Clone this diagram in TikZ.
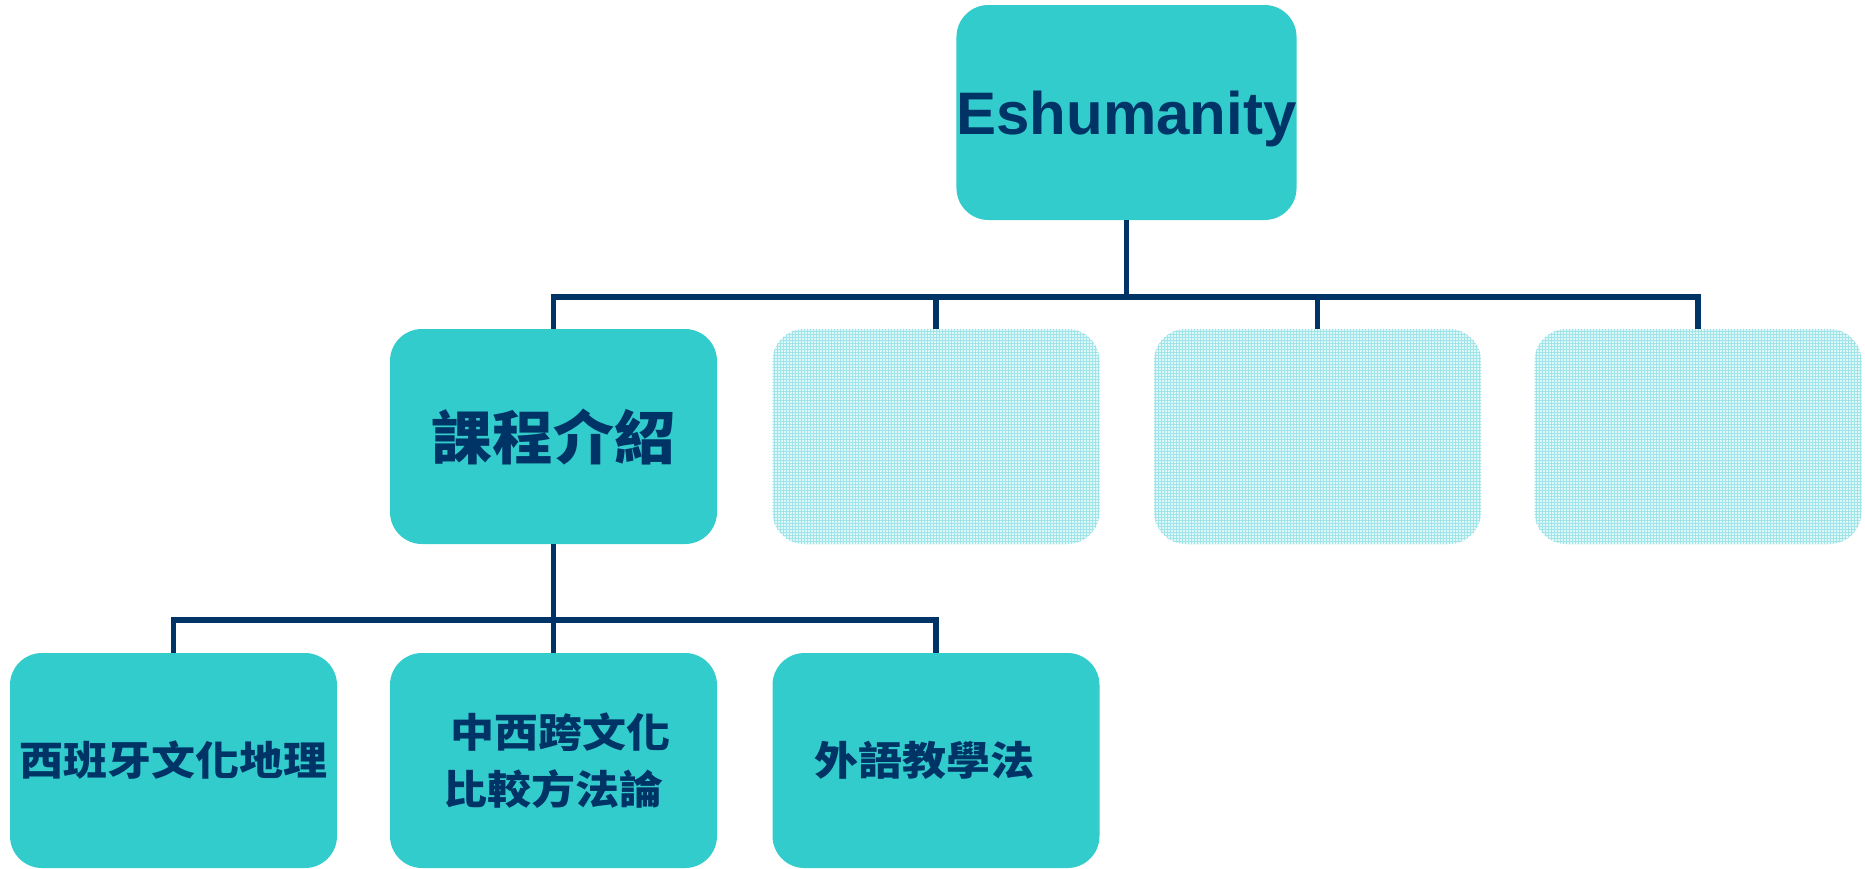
\documentclass[tikz,border=0pt]{standalone}
\usepackage{fontspec}
\setmainfont{Liberation Sans}
\newfontfamily\cjk{Noto Sans CJK TC}
\usetikzlibrary{patterns}
\definecolor{boxc}{HTML}{33CCCC}
\definecolor{navy}{HTML}{003366}
\definecolor{paleA}{HTML}{E0F7F7}
\definecolor{paleB}{HTML}{9EE4E8}
\newcommand{\widetext}[1]{\scalebox{1.1}[1]{#1}}
\begin{document}
\begin{tikzpicture}[x=1pt,y=-1pt,
  box/.style={rectangle, rounded corners=32pt, fill=boxc, minimum width=327pt,
    minimum height=215pt, inner sep=0pt, text=navy, align=center},
  ghost/.style={rectangle, rounded corners=32pt, fill=paleA, minimum width=327pt,
    minimum height=215pt, inner sep=0pt, postaction={pattern=grid, pattern color=paleB}},
  conn/.style={draw=navy, line width=5.5pt},
  big/.style={font=\cjk\bfseries\fontsize{58}{72}\selectfont},
  small/.style={font=\cjk\bfseries\fontsize{40}{57}\selectfont}]
\useasboundingbox (0,0) rectangle (1865,868);
% nodes
\node[box, font=\bfseries\fontsize{60}{72}\selectfont, text height=43pt, text depth=0pt] (top) at (1126.5,112.5) {Eshumanity};
\node[box, big] (kc) at (553.5,436.5) {\scalebox{1.05}[1]{課程介紹}};
\node[ghost] (g1) at (936,436.5) {};
\node[ghost] (g2) at (1317.5,436.5) {};
\node[ghost] (g3) at (1698,436.5) {};
\node[box, small] (s1) at (173.5,760.5) {\widetext{西班牙文化地理}};
\node[box, small] (s2) at (553.5,760.5) {\kern14pt\widetext{中西跨文化}\\\widetext{比較方法論}};
\node[box, small] (s3) at (936,760.5) {\widetext{外語教學法}\kern23pt};
% bus coordinates
\coordinate (bus1) at (0,297);
\coordinate (bus2) at (0,620);
% connectors
\draw[conn] (top.south) -- (top.south |- bus1) -| (kc.north);
\draw[conn] (top.south) -- (top.south |- bus1) -| (g1.north);
\draw[conn] (top.south) -- (top.south |- bus1) -| (g2.north);
\draw[conn] (top.south) -- (top.south |- bus1) -| (g3.north);
\draw[conn] (kc.south) -- (kc.south |- bus2) -| (s1.north);
\draw[conn] (kc.south) -- (kc.south |- bus2) -| (s2.north);
\draw[conn] (kc.south) -- (kc.south |- bus2) -| (s3.north);
\end{tikzpicture}
\end{document}
